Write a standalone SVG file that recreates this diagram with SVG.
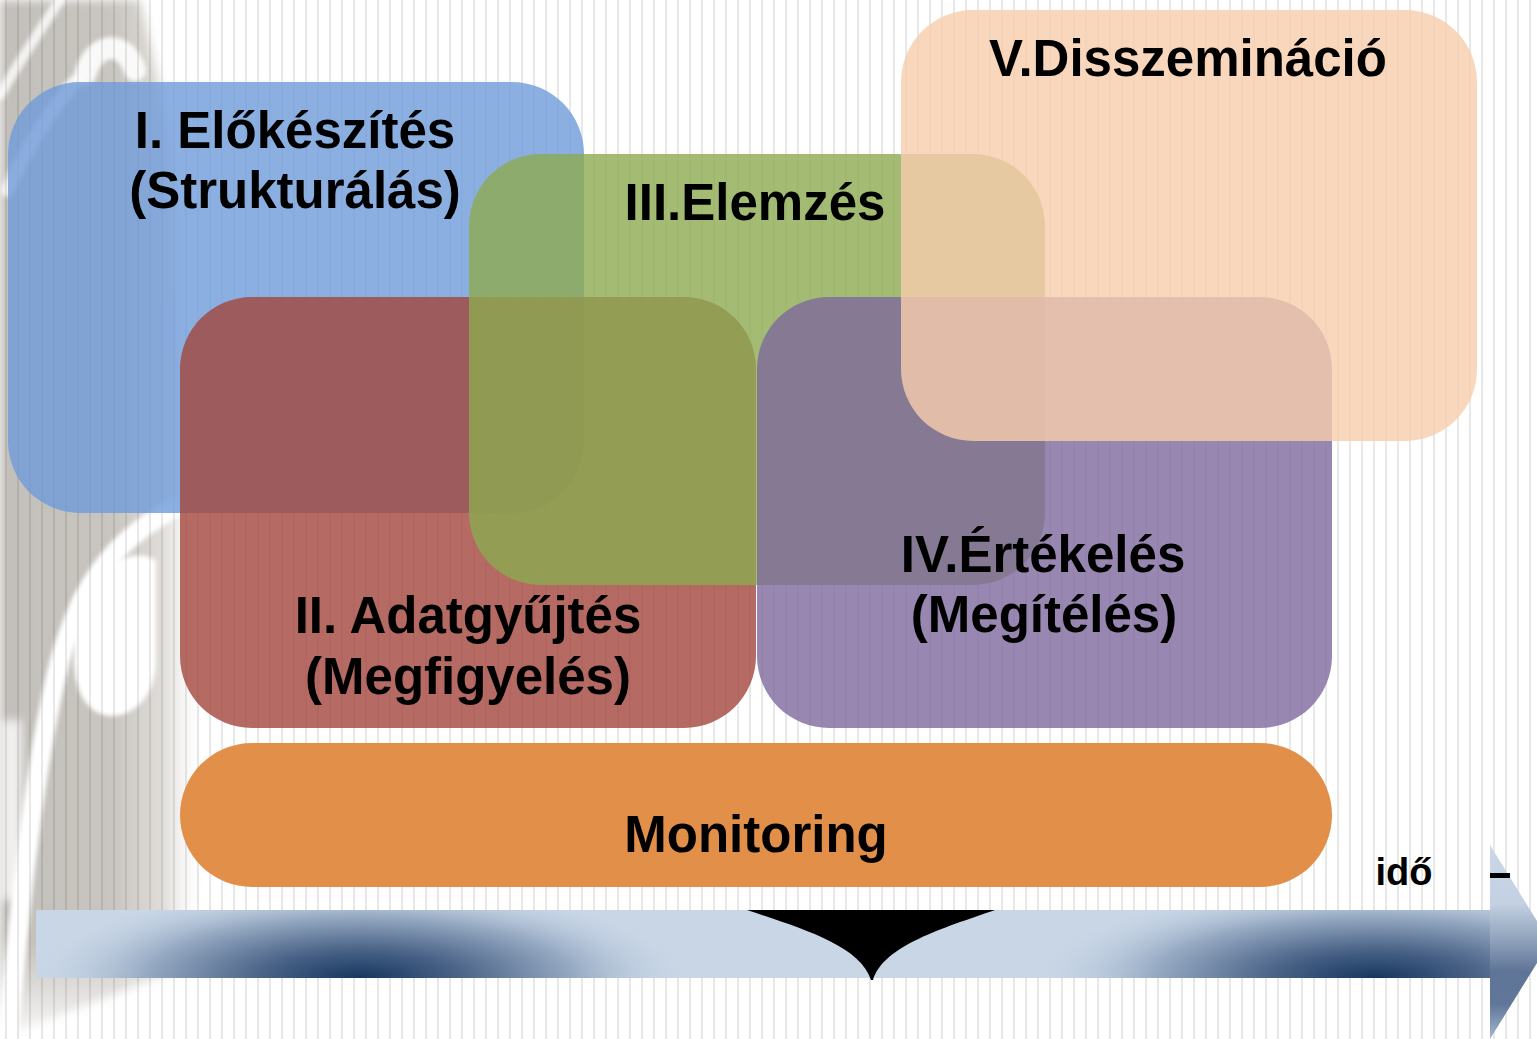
<svg xmlns="http://www.w3.org/2000/svg" width="1537" height="1039" viewBox="0 0 1537 1039">
  <style>
    .lbl { font-family: "Liberation Sans", Arial, sans-serif; font-weight: bold; font-size: 51px; fill: #000; text-anchor: middle; }
    .box { opacity: 0.8; }
  </style>
  <defs>
    <pattern id="stripes" x="0" y="0" width="12" height="20" patternUnits="userSpaceOnUse">
      <rect x="5" y="0" width="2" height="20" fill="#000" fill-opacity="0.09"/>
    </pattern>
    <linearGradient id="greyH" x1="0" y1="0" x2="1" y2="0">
      <stop offset="0" stop-color="#c2bfba"/>
      <stop offset="0.55" stop-color="#c9c6c1"/>
      <stop offset="0.8" stop-color="#e0ddd9"/>
      <stop offset="1" stop-color="#ffffff" stop-opacity="0"/>
    </linearGradient>
    <linearGradient id="fadeBottom" x1="0" y1="0" x2="0" y2="1">
      <stop offset="0" stop-color="#fff" stop-opacity="0"/>
      <stop offset="1" stop-color="#fff" stop-opacity="0.9"/>
    </linearGradient>
    <filter id="soft" x="-20%" y="-20%" width="140%" height="140%">
      <feGaussianBlur stdDeviation="5"/>
    </filter>
    <filter id="soft2" x="-20%" y="-20%" width="140%" height="140%">
      <feGaussianBlur stdDeviation="2"/>
    </filter>
    <radialGradient id="darkSpot" cx="0.5" cy="0.5" r="0.5">
      <stop offset="0" stop-color="#17365f"/>
      <stop offset="0.3" stop-color="#4a6387"/>
      <stop offset="0.65" stop-color="#97aac3"/>
      <stop offset="1" stop-color="#c8d6e6" stop-opacity="0"/>
    </radialGradient>
    <linearGradient id="headGrad" x1="0" y1="0" x2="0" y2="1">
      <stop offset="0" stop-color="#c9d7e7"/>
      <stop offset="0.3" stop-color="#c3d1e2"/>
      <stop offset="0.5" stop-color="#8d9fb9"/>
      <stop offset="0.65" stop-color="#5f7597"/>
      <stop offset="0.82" stop-color="#60779a"/>
      <stop offset="1" stop-color="#a3b6cd"/>
    </linearGradient>
    <clipPath id="bodyClip">
      <rect x="36" y="910" width="1456" height="68"/>
    </clipPath>
  </defs>

  <!-- background -->
  <g id="background">
    <rect x="0" y="0" width="1537" height="1039" fill="#ffffff"/>
    <g filter="url(#soft)">
      <path d="M0,0 L140,0 C150,40 170,120 175,200 L185,500 L200,700 L205,960 L0,1039 Z" fill="url(#greyH)"/>
    </g>
    <g filter="url(#soft2)" fill="none" stroke="#ffffff" stroke-linecap="round">
      <path d="M8,1039 C20,900 35,760 60,660 C80,590 110,540 180,505" stroke-width="20"/>
      <path d="M0,95 C20,60 40,30 60,0" stroke-width="10" stroke-opacity="0.8"/>
      <path d="M75,82 C50,110 25,150 8,190" stroke-width="14" stroke-opacity="0.8"/>
      <path d="M85,75 C95,40 125,40 135,70" stroke-width="22" stroke-opacity="0.9"/>
    </g>
    <path filter="url(#soft2)" d="M74,600 C90,570 130,545 156,560 L156,660 C156,700 130,716 112,716 C90,716 74,695 74,660 Z" fill="#ffffff"/>
    <rect filter="url(#soft)" x="0" y="720" width="22" height="180" fill="#ffffff" opacity="0.75"/>
    <rect x="0" y="940" width="240" height="99" fill="url(#fadeBottom)"/>
    <rect x="0" y="0" width="1537" height="1039" fill="url(#stripes)"/>
  </g>

  <!-- timeline arrow -->
  <g id="timeline">
    <rect x="36" y="910" width="1456" height="68" fill="#c8d6e6"/>
    <g clip-path="url(#bodyClip)">
      <ellipse cx="360" cy="978" rx="330" ry="95" fill="url(#darkSpot)"/>
      <ellipse cx="1375" cy="978" rx="340" ry="95" fill="url(#darkSpot)"/>
    </g>
    <path d="M1490,845 L1550,942 L1490,1039 Z" fill="url(#headGrad)"/>
    <path d="M747,910 L995,910 C944,928 884,945 873,980 L871,980 C860,945 800,928 747,910 Z" fill="#000000"/>
    <rect x="1490" y="873" width="20" height="5" fill="#000000"/>
  </g>

  <g id="connectors"/>

  <!-- phase boxes -->
  <g id="node-I">
    <rect class="box" x="8" y="82" width="576" height="431" rx="72" ry="72" fill="#6f9bd9"/>
  </g>
  <g id="node-II">
    <rect class="box" x="180" y="297" width="576" height="431" rx="72" ry="72" fill="#a2463c"/>
  </g>
  <g id="node-III">
    <rect class="box" x="469" y="154" width="576" height="431" rx="72" ry="72" fill="#8caa50"/>
  </g>
  <g id="node-IV">
    <rect class="box" x="757" y="297" width="575" height="431" rx="72" ry="72" fill="#7e699c"/>
  </g>
  <g id="node-V">
    <rect class="box" x="901" y="10" width="576" height="431" rx="72" ry="72" fill="#f7cdac"/>
  </g>
  <g id="node-monitoring">
    <rect x="180" y="743" width="1152" height="144" rx="72" ry="72" fill="#e0893f" opacity="0.95"/>
  </g>

  <!-- labels -->
  <g id="labels">
    <text class="lbl" x="295" y="148">I. Előkészítés</text>
    <text class="lbl" x="295" y="208">(Strukturálás)</text>
    <text class="lbl" x="755" y="220">III.Elemzés</text>
    <text class="lbl" x="1188" y="76">V.Disszemináció</text>
    <text class="lbl" x="1043" y="572">IV.Értékelés</text>
    <text class="lbl" x="1044" y="632">(Megítélés)</text>
    <text class="lbl" x="468" y="633">II. Adatgyűjtés</text>
    <text class="lbl" x="468" y="694">(Megfigyelés)</text>
    <text class="lbl" x="756" y="852">Monitoring</text>
    <text class="lbl" x="1404" y="885" style="font-size:38px">idő</text>
  </g>
</svg>
